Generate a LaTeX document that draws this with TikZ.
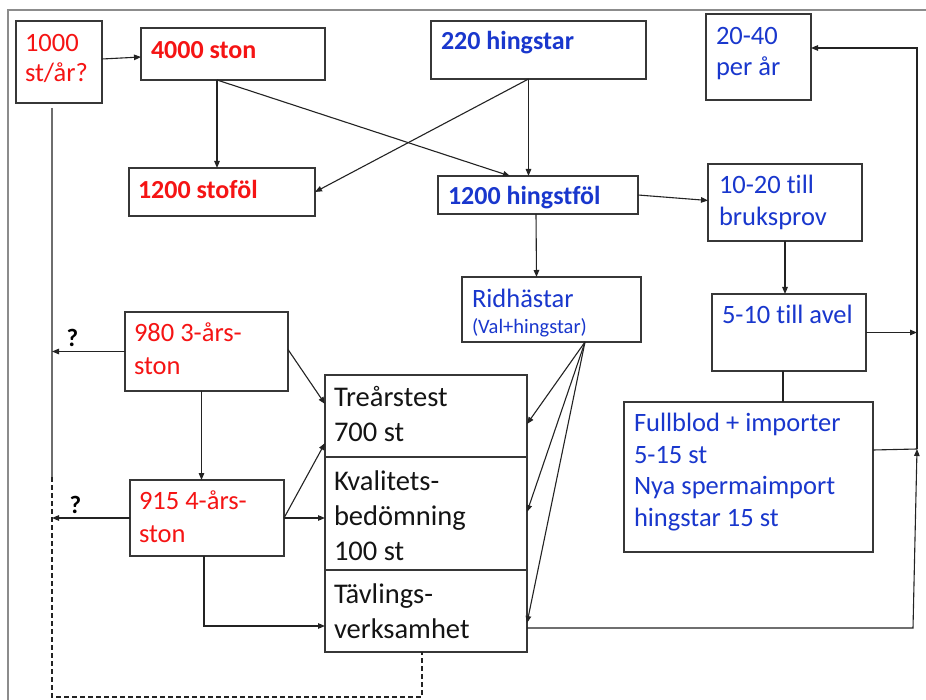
\documentclass[tikz,border=0pt]{standalone}
\usepackage{fontspec}
\setmainfont{Carlito}[Ligatures=NoCommon]
\usetikzlibrary{arrows.meta,calc}
\definecolor{cred}{RGB}{245,20,20}
\definecolor{cblue}{RGB}{25,55,205}
\definecolor{cline}{RGB}{35,35,35}
\definecolor{cbox}{RGB}{55,55,55}
\definecolor{cframe}{RGB}{140,140,140}
\definecolor{cleft}{RGB}{110,110,110}
\definecolor{ctext}{RGB}{20,20,20}
\begin{document}
\begin{tikzpicture}[x=1pt,y=-1pt,
  box/.style={draw=cbox, line width=1.3pt, anchor=north west, inner sep=0pt, outer sep=0pt},
  tx/.style={anchor=north west, inner sep=0pt, outer sep=0pt, align=left},
  redA/.style={tx, text=cred, font={\fontsize{26.5}{30}\selectfont}},
  redB/.style={tx, text=cred, font={\fontsize{26.5}{33}\selectfont}},
  redBold/.style={tx, text=cred, font={\bfseries\fontsize{26}{32}\selectfont}},
  blueR/.style={tx, text=cblue, font={\fontsize{26.5}{31.5}\selectfont}},
  blueBold/.style={tx, text=cblue, font={\bfseries\fontsize{26}{32}\selectfont}},
  blackR/.style={tx, text=ctext, font={\fontsize{28.5}{35}\selectfont}},
  qlab/.style={inner sep=0pt, text=black, font={\bfseries\fontsize{25}{28}\selectfont}},
  ln/.style={draw=cline, line width=1.1pt},
  arr/.style={ln, -{Triangle[length=7pt,width=5.5pt]}}
]
\useasboundingbox (0,0) rectangle (926,700);
\fill[white] (0,0) rectangle (926,700);
% outer frame
\draw[cframe, line width=1.5pt] (8,700) -- (8,10) -- (926,10);

% boxes
\node[box, minimum width=86pt,  minimum height=82pt]  (b1000)  at (16,21)  {};
\node[box, minimum width=184pt, minimum height=52pt]  (b4000)  at (141,28) {};
\node[box, minimum width=215pt, minimum height=58pt]  (b220)   at (431,21) {};
\node[box, minimum width=105pt, minimum height=86pt]  (b2040)  at (706,14) {};
\node[box, minimum width=186pt, minimum height=48pt]  (bstofol) at (129,168) {};
\node[box, minimum width=200pt, minimum height=38pt]  (bhingst) at (438,176) {};
\node[box, minimum width=154pt, minimum height=77pt]  (bbruks) at (708,164) {};
\node[box, minimum width=179pt, minimum height=65pt]  (bridh)  at (462,277) {};
\node[box, minimum width=154pt, minimum height=77pt]  (bavel)  at (712,294) {};
\node[box, minimum width=249pt, minimum height=150pt] (bfull)  at (624,402) {};
\node[box, minimum width=163pt, minimum height=79pt]  (b980)   at (125,312) {};
\node[box, minimum width=154pt, minimum height=76pt]  (b915)   at (130,480) {};
\node[box, minimum width=202pt, minimum height=82pt]  (btrear) at (325,375) {};
\node[box, minimum width=202pt, minimum height=113pt] (bkval)  at (325,457) {};
\node[box, minimum width=202pt, minimum height=82pt]  (btavl)  at (325,570) {};

% texts
\node[redA]     (t1000)  at (25,31)      {\strut 1000\\st/år?};
\node[redBold]  (t4000)  at (151,35.9)   {\strut 4000 ston};
\node[blueBold] (t220)   at (441,27.6)   {\strut 220 hingstar};
\node[blueR]    (t2040)  at (716,22.25)  {\strut 20-40\\per år};
\node[redBold]  (tstofol) at (138,175.9) {\strut 1200 stoföl};
\node[blueBold] (thingst) at (448,182.6) {\strut 1200 hingstföl};
\node[blueR]    (tbruks) at (719,171.95) {\strut 10-20 till\\bruksprov};
\node[blueR]    (tridh)  at (472,285.25) {\strut Ridhästar\\[-5pt]{\fontsize{20.5}{24}\selectfont (Val+hingstar)}};
\node[blueR]    (tavel)  at (722,301.25) {\strut 5-10 till avel};
\node[blueR]    (tfull)  at (634,409.65) {\strut Fullblod + importer\\5-15 st\\Nya spermaimport\\hingstar 15 st};
\node[redB]     (t980)   at (134,318.6)  {\strut 980 3-års-\\ston};
\node[redB]     (t915)   at (139,485.9)  {\strut 915 4-års-\\ston};
\node[blackR]   (ttrear) at (334,382.2)  {\strut Treårstest\\700 st};
\node[blackR]   (tkval)  at (334,465.5)  {\strut Kvalitets-\\bedömning\\100 st};
\node[blackR]   (ttavl)  at (334,578.8)  {\strut Tävlings-\\verksamhet};

% helper coordinates
\coordinate (rtop)  at (917,48);
\coordinate (rjoin) at (917,449);
\coordinate (rbot)  at (913,628);
\coordinate (ltop) at ($(b1000.south)+(-7,5)$);
\coordinate (lmid) at ($(ltop)+(0,369)$);
\coordinate (dcorner) at ($(btavl.south)+(-4,45)$);

% connectors
\draw[arr] ($(b1000.east)+(0,-3)$) -- ($(b4000.west)+(0,3)$);
\coordinate (p4000) at ($(b4000.south)+(-16,0)$);
\draw[arr] (p4000) -- (p4000 |- bstofol.north);
\draw[arr] (p4000) -- ($(bhingst.north)+(-28,0)$);
\coordinate (p220) at ($(b220.south)+(-10,0)$);
\draw[arr] (p220) -- (p220 |- bhingst.north);
\draw[arr] (p220) -- (bstofol.east);
\draw[arr] (bhingst.east) -- ($(bbruks.west)+(0,-2)$);
\draw[arr] ($(bhingst.south)+(-2,0)$) -- ($(bridh.north)+(-15,0)$);
\draw[arr] (bbruks.south) -- (bbruks.south |- bavel.north);
\draw[arr] (bavel.east) -- (bavel.east -| rtop);
\coordinate (pav) at ($(bavel.south)+(-6,0)$);
\draw[ln] (pav) -- (pav |- bfull.north);
\draw[ln] ($(bfull.east)+(0,-27)$) -- (rjoin);
\draw[arr] ($(btavl.east)+(0,17)$) -- (rbot) -- (rjoin);
\draw[arr] (rjoin) -- (rtop) -- ($(b2040.east)+(0,-9)$);
\coordinate (pr) at ($(bridh.south)+(33.5,0)$);
\draw[arr] (pr) -- ($(btrear.east)+(0,8)$);
\draw[arr] (pr) -- ($(bkval.east)+(0,-1.5)$);
\draw[arr] (pr) -- ($(btavl.east)+(0,12)$);
\draw[arr] ($(b980.east)+(0,-2)$) -- ($(btrear.west)+(0,-12)$);
\coordinate (p980s) at ($(b980.south)+(-5,0)$);
\draw[arr] (p980s) -- (p980s |- b915.north);
\draw[arr] (b915.east) -- ($(btrear.west)+(0,27)$);
\draw[arr] (b915.east) -- (b915.east -| bkval.west);
\draw[arr] ($(b915.south)+(-3,0)$) |- ($(btavl.west)+(0,15)$);
\draw[draw=cleft, line width=1.1pt] (ltop) -- (lmid);
\draw[ln, dash pattern=on 5pt off 3pt] (lmid) -- (lmid |- dcorner) -- (dcorner) -- ($(btavl.south)+(-4,0)$);
\draw[arr] (b980.west) -- node[qlab, pos=0.72, above=4pt] (q1) {?} (b980.west -| ltop);
\draw[arr] (b915.west) -- node[qlab, pos=0.70, above=4pt] (q2) {?} (b915.west -| ltop);
\end{tikzpicture}
\end{document}
